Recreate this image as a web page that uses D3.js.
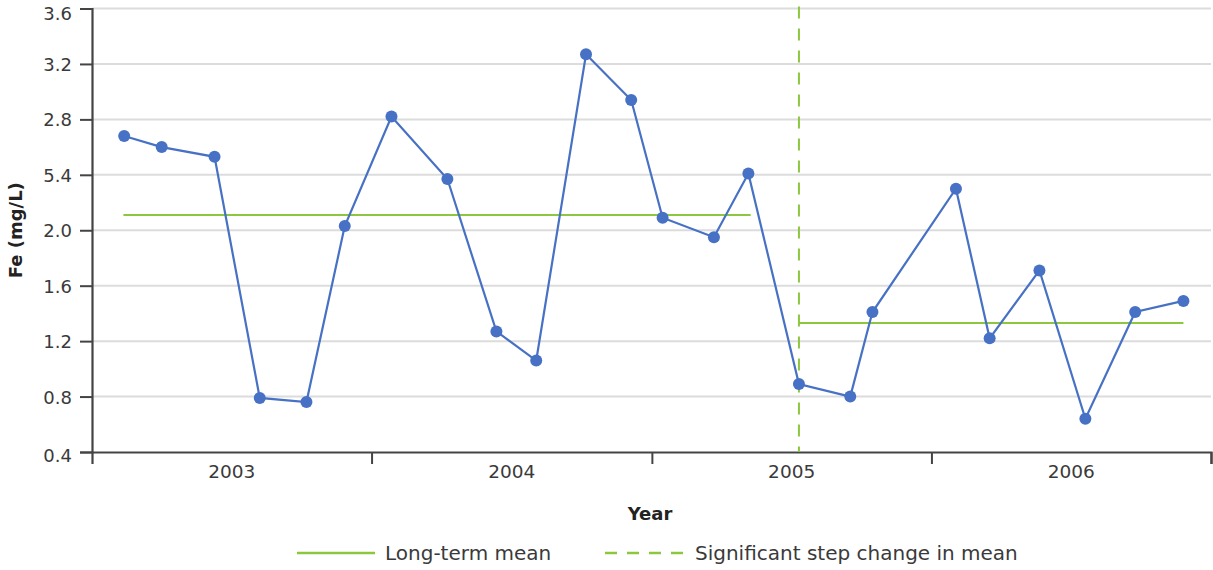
<!DOCTYPE html>
<html>
<head>
<meta charset="utf-8">
<script src="https://cdn.jsdelivr.net/npm/d3@7"></script>
<style>
  html, body { margin: 0; padding: 0; background: #fff; }
  svg { display: block; font-family: "DejaVu Sans", "Open Sans", sans-serif; }
</style>
</head>
<body>
<svg id="chart" width="1213" height="570"></svg>
<script>
// Iron concentration samples, 2003–2006
const sampleDates = [
  "2003-02-12", "2003-04-02", "2003-06-10", "2003-08-08", "2003-10-08", "2003-11-27",
  "2004-01-27", "2004-04-09", "2004-06-12", "2004-08-03", "2004-10-07", "2004-12-05",
  "2005-01-15", "2005-03-23", "2005-05-07", "2005-07-12", "2005-09-17", "2005-10-16",
  "2006-02-02", "2006-03-18", "2006-05-22", "2006-07-21", "2006-09-24", "2006-11-26"
];
const feValues = [
  2.68, 2.60, 2.53, 0.79, 0.76, 2.03,
  2.82, 2.37, 1.27, 1.06, 3.27, 2.94,
  2.09, 1.95, 2.41, 0.89, 0.80, 1.41,
  2.30, 1.22, 1.71, 0.64, 1.41, 1.49
];

// Mean level before and after the step change
const meanStarts = ["2003-02-11", "2005-07-12"];
const meanEnds = ["2005-05-10", "2006-11-26"];
const meanValues = [2.11, 1.33];

// Date of the significant step change
const stepDate = "2005-07-12";

// Axis ticks and labels
const yTickValues = [0.4, 0.8, 1.2, 1.6, 2.0, 2.4, 2.8, 3.2, 3.6];
const yTickLabels = ["0.4", "0.8", "1.2", "1.6", "2.0", "5.4", "2.8", "3.2", "3.6"];
const yearLabels = ["2003", "2004", "2005", "2006"];
const yearBounds = ["2003-01-01", "2004-01-01", "2005-01-01", "2006-01-01", "2007-01-01"];

const legendLabels = ["Long-term mean", "Significant step change in mean"];

const parse = d3.timeParse("%Y-%m-%d");
const data = sampleDates.map((d, i) => ({ date: parse(d), value: feValues[i] }));
const bounds = yearBounds.map(parse);

const colors = { line: "#4771c4", green: "#8dc63f", grid: "#dcdcdc", axis: "#444444", text: "#3a3a3a" };

const svg = d3.select("#chart");
const plot = { left: 92, right: 1211, top: 8.5, bottom: 452 };

const x = d3.scaleTime().domain([bounds[0], bounds[bounds.length - 1]]).range([plot.left, plot.right]);
const y = d3.scaleLinear().domain([0.4, 3.6]).range([plot.bottom, plot.top]);

// Horizontal gridlines
svg.append("g")
  .selectAll("line")
  .data(yTickValues.slice(1))
  .join("line")
  .attr("x1", plot.left).attr("x2", plot.right)
  .attr("y1", d => y(d)).attr("y2", d => y(d))
  .attr("stroke", colors.grid).attr("stroke-width", 2);

// Y axis
const yAxis = svg.append("g")
  .attr("transform", `translate(${plot.left},0)`)
  .call(d3.axisLeft(y)
    .tickValues(yTickValues)
    .tickFormat((d, i) => yTickLabels[i])
    .tickSize(12).tickPadding(8));
yAxis.select(".domain").attr("stroke", colors.axis).attr("stroke-width", 2.2);
yAxis.selectAll(".tick line").attr("stroke", colors.axis).attr("stroke-width", 2);
yAxis.selectAll(".tick text")
  .attr("fill", colors.text)
  .attr("font-family", null).attr("font-size", null)
  .style("font-size", "18px")
  .style("font-family", "'DejaVu Sans', sans-serif")
  // keep the end labels inside the drawing area
  .attr("dy", d => d === 3.6 ? "0.32em" : d === 0.4 ? "0.5em" : "0.36em")
  .attr("y", d => d === 3.6 ? 5 : 0);

// X axis: ticks at year boundaries, labels centred on each year
const xAxis = svg.append("g")
  .attr("transform", `translate(0,${plot.bottom})`)
  .call(d3.axisBottom(x).tickValues(bounds.slice(1)).tickFormat("").tickSizeOuter(0).tickSize(12));
xAxis.select(".domain").attr("stroke", colors.axis).attr("stroke-width", 2.2);
xAxis.selectAll(".tick line").attr("stroke", colors.axis).attr("stroke-width", 2);

svg.append("g")
  .selectAll("text")
  .data(yearLabels)
  .join("text")
  .attr("x", (d, i) => (x(bounds[i]) + x(bounds[i + 1])) / 2)
  .attr("y", plot.bottom + 26)
  .attr("text-anchor", "middle")
  .attr("fill", colors.text)
  .style("font-size", "18.5px")
  .text(d => d);

// Axis titles
svg.append("text")
  .attr("x", 650).attr("y", 520)
  .attr("text-anchor", "middle")
  .attr("fill", "#222")
  .style("font-size", "18px").style("font-weight", "bold")
  .text("Year");

svg.append("text")
  .attr("transform", `translate(22,${(plot.top + plot.bottom) / 2}) rotate(-90)`)
  .attr("text-anchor", "middle")
  .attr("fill", "#222")
  .style("font-size", "18px").style("font-weight", "bold")
  .text("Fe (mg/L)");

// Mean level segments
svg.append("g")
  .selectAll("line")
  .data(meanValues)
  .join("line")
  .attr("x1", (d, i) => x(parse(meanStarts[i])))
  .attr("x2", (d, i) => x(parse(meanEnds[i])))
  .attr("y1", d => y(d)).attr("y2", d => y(d))
  .attr("stroke", colors.green).attr("stroke-width", 2);

// Step change marker
svg.append("line")
  .attr("x1", x(parse(stepDate))).attr("x2", x(parse(stepDate)))
  .attr("y1", plot.top - 2).attr("y2", plot.bottom)
  .attr("stroke", colors.green).attr("stroke-width", 2)
  .attr("stroke-dasharray", "12,10");

// Series line and markers
svg.append("path")
  .datum(data)
  .attr("fill", "none")
  .attr("stroke", colors.line)
  .attr("stroke-width", 2.2)
  .attr("d", d3.line().x(d => x(d.date)).y(d => y(d.value)));

svg.append("g")
  .selectAll("circle")
  .data(data)
  .join("circle")
  .attr("cx", d => x(d.date))
  .attr("cy", d => y(d.value))
  .attr("r", 6)
  .attr("fill", colors.line);

// Legend
const legend = svg.append("g");
legend.append("line")
  .attr("x1", 297).attr("x2", 375).attr("y1", 553).attr("y2", 553)
  .attr("stroke", colors.green).attr("stroke-width", 2.5);
legend.append("text")
  .attr("x", 385).attr("y", 560)
  .attr("fill", colors.text).style("font-size", "20px")
  .text(legendLabels[0]);
legend.append("line")
  .attr("x1", 605).attr("x2", 687).attr("y1", 553).attr("y2", 553)
  .attr("stroke", colors.green).attr("stroke-width", 2.5)
  .attr("stroke-dasharray", "12,10");
legend.append("text")
  .attr("x", 695).attr("y", 560)
  .attr("fill", colors.text).style("font-size", "20px")
  .text(legendLabels[1]);
</script>
</body>
</html>
